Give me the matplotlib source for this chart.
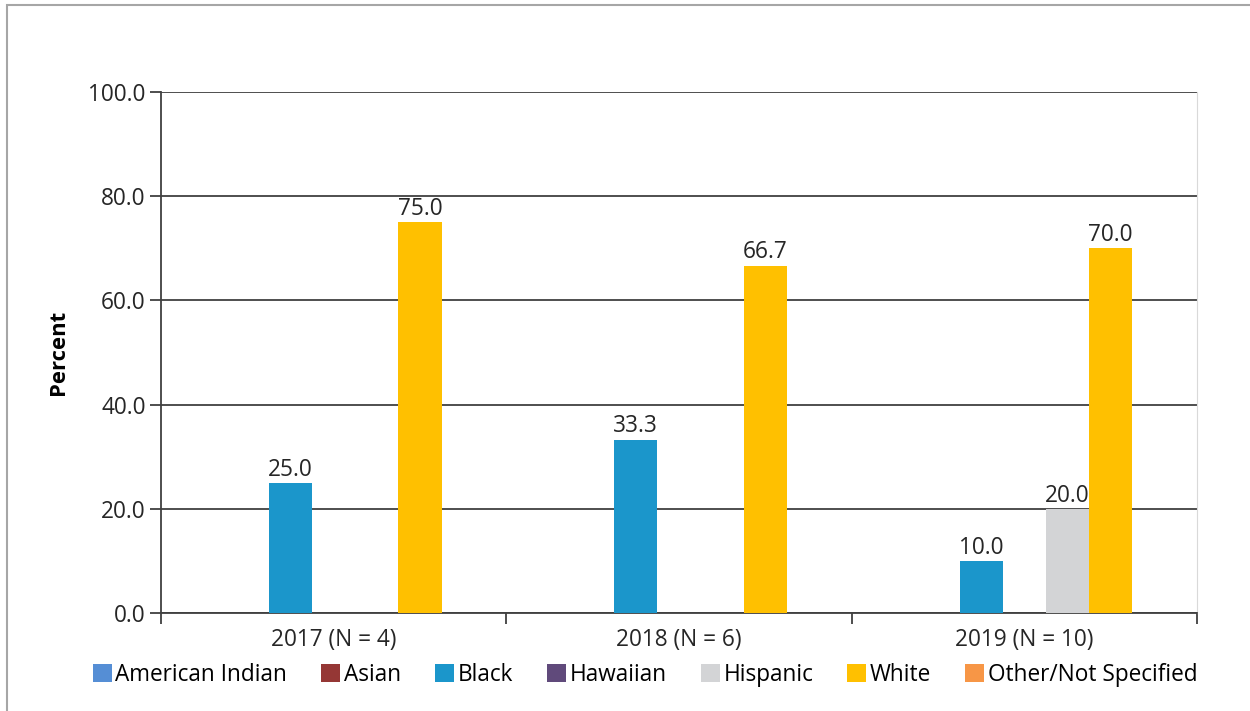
import numpy as np
import matplotlib.pyplot as plt
from matplotlib.patches import Rectangle
from matplotlib.ticker import FixedLocator, NullFormatter

plt.rcParams['font.family'] = ['Open Sans', 'DejaVu Sans']

years = ['2017 (N = 4)', '2018 (N = 6)', '2019 (N = 10)']
groups = ['American Indian', 'Asian', 'Black', 'Hawaiian', 'Hispanic', 'White',
          'Other/Not Specified']
american_indian = [0.0, 0.0, 0.0]
asian = [0.0, 0.0, 0.0]
black = [25.0, 33.3, 10.0]
hawaiian = [0.0, 0.0, 0.0]
hispanic = [0.0, 0.0, 20.0]
white = [75.0, 66.7, 70.0]
other = [0.0, 0.0, 0.0]
colors = ['#558ED5', '#953735', '#1B96CB', '#604A7B', '#D3D4D6', '#FFC000', '#F79646']

series = [american_indian, asian, black, hawaiian, hispanic, white, other]
fs = 16.3

fig = plt.figure(figsize=(12.5, 7.11), dpi=100)
ax = fig.add_axes([0.1288, 0.1378, 0.8288, 0.7328])

# outer chart frame (only top and left edges show)
fig.patches.append(Rectangle((0.0056, -0.05), 1.05, 1.043, transform=fig.transFigure,
                             fill=False, edgecolor='#A6A6A6', linewidth=1.5, zorder=0))

x = np.arange(len(years))
width = 0.125
for i, (name, vals, c) in enumerate(zip(groups, series, colors)):
    pos = x - 3 * width + i * width
    bars = ax.bar(pos, vals, width, color=c, label=name, zorder=3)
    for b, v in zip(bars, vals):
        if v > 0:
            ax.text(b.get_x() + b.get_width() / 2, v + 0.2, f'{v:.1f}',
                    ha='center', va='bottom', fontsize=fs, color='#262626', zorder=4)

ax.set_xlim(-0.5, 2.5)
ax.set_ylim(0, 100)
ax.set_yticks(np.arange(0, 101, 20))
ax.set_yticklabels([f'{t:.1f}' for t in np.arange(0, 101, 20)], fontsize=fs, color='#262626')
ax.yaxis.grid(True, color='#404040', linewidth=1.3, zorder=0)
ax.tick_params(axis='y', length=8, width=1.3, color='#404040', pad=3)

ax.set_xticks(x)
ax.set_xticklabels(years, fontsize=fs, color='#262626')
ax.tick_params(axis='x', which='major', length=0, pad=11)
ax.xaxis.set_minor_locator(FixedLocator([-0.5, 0.5, 1.5, 2.5]))
ax.xaxis.set_minor_formatter(NullFormatter())
ax.tick_params(axis='x', which='minor', length=8, width=1.3, color='#404040')

ax.spines['top'].set_visible(False)
ax.spines['right'].set_color('#D9D9D9')
ax.spines['left'].set_color('#404040')
ax.spines['bottom'].set_color('#404040')
ax.spines['left'].set_linewidth(1.3)
ax.spines['bottom'].set_linewidth(1.3)

ax.set_ylabel('Percent', fontsize=fs - 0.5, fontweight='bold', labelpad=14)

fig.legend(loc='center', bbox_to_anchor=(645 / 1250, 1 - 675 / 711), ncol=7,
           frameon=False, fontsize=fs, handlelength=0.85, handleheight=0.85,
           handletextpad=0.15, columnspacing=1.5, borderaxespad=0)

fig.savefig('out.png', dpi=100)
